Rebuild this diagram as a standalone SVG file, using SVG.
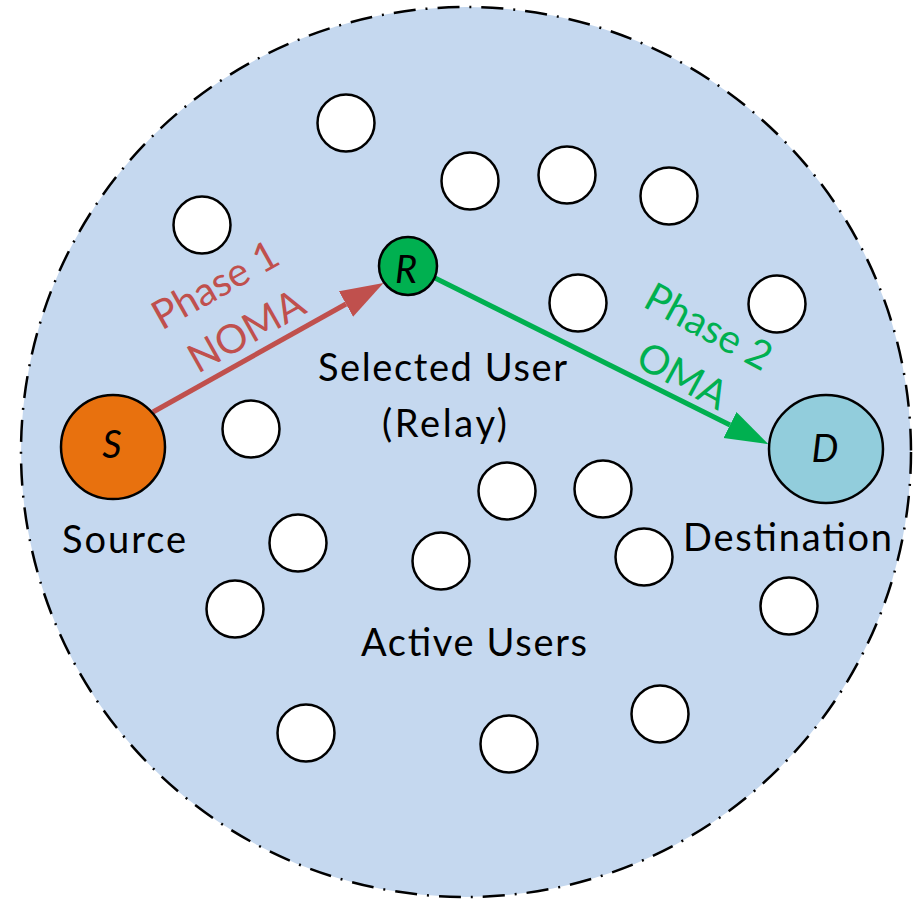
<svg xmlns="http://www.w3.org/2000/svg" width="922" height="899" viewBox="0 0 922 899">
  <defs>
    <style>
      .user { fill: #FFFFFF; stroke: #000000; stroke-width: 2.5; }
      .node { stroke: #000000; stroke-width: 2.5; }
      .lbl { font-family: Lato, "Open Sans", "Liberation Sans", sans-serif; font-size: 38px; fill: #000000; }
      .ital { font-family: Lato, "Open Sans", "Liberation Sans", sans-serif; font-size: 38px; font-style: italic; fill: #000000; text-anchor: middle; }
      .ph1 { font-family: Lato, "Open Sans", "Liberation Sans", sans-serif; font-size: 40px; fill: #C0504D; text-anchor: middle; }
      .ph2 { font-family: Lato, "Open Sans", "Liberation Sans", sans-serif; font-size: 40px; fill: #00B050; text-anchor: middle; }
    </style>
    <marker id="headRed" markerUnits="userSpaceOnUse" markerWidth="44" markerHeight="30" refX="0" refY="14.5" orient="auto">
      <path d="M0,0 L43,14.5 L0,29 Z" fill="#C0504D"/>
    </marker>
    <marker id="headGreen" markerUnits="userSpaceOnUse" markerWidth="44" markerHeight="30" refX="0" refY="14.5" orient="auto">
      <path d="M0,0 L43,14.5 L0,29 Z" fill="#00B050"/>
    </marker>
  </defs>

  <g id="area">
    <circle cx="466" cy="452" r="445" fill="#C5D8EF" stroke="#000000" stroke-width="2.5" stroke-dasharray="22 10 2 10"/>
  </g>

  <g id="active-users">
    <circle class="user" cx="346" cy="123" r="28.5"/>
    <circle class="user" cx="202" cy="225" r="28.5"/>
    <circle class="user" cx="470" cy="181" r="28.5"/>
    <circle class="user" cx="567" cy="175" r="28.5"/>
    <circle class="user" cx="669" cy="196" r="28.5"/>
    <circle class="user" cx="578" cy="303" r="28.5"/>
    <circle class="user" cx="777" cy="304" r="28.5"/>
    <circle class="user" cx="251" cy="429" r="28.5"/>
    <circle class="user" cx="507" cy="491" r="28.5"/>
    <circle class="user" cx="603" cy="489" r="28.5"/>
    <circle class="user" cx="298" cy="543" r="28.5"/>
    <circle class="user" cx="441" cy="561" r="28.5"/>
    <circle class="user" cx="644" cy="557" r="28.5"/>
    <circle class="user" cx="235" cy="609" r="28.5"/>
    <circle class="user" cx="789" cy="606" r="28.5"/>
    <circle class="user" cx="306" cy="733" r="28.5"/>
    <circle class="user" cx="509" cy="744" r="28.5"/>
    <circle class="user" cx="660" cy="714" r="28.5"/>
    <text class="lbl" x="474" y="656" text-anchor="middle" textLength="226">Active Users</text>
  </g>

  <g id="connectors">
    <line x1="153" y1="412" x2="346" y2="304" stroke="#C0504D" stroke-width="5" marker-end="url(#headRed)"/>
    <line x1="433" y1="277" x2="730" y2="425" stroke="#00B050" stroke-width="5" marker-end="url(#headGreen)"/>
    <g transform="translate(222,297) rotate(-29.3)">
      <text class="ph1" x="0" y="0">Phase 1</text>
    </g>
    <g transform="translate(253,343) rotate(-29.3)">
      <text class="ph1" x="0" y="0">NOMA</text>
    </g>
    <g transform="translate(702,339) rotate(28.5)">
      <text class="ph2" x="0" y="0">Phase 2</text>
    </g>
    <g transform="translate(676,388) rotate(28.5)">
      <text class="ph2" x="0" y="0">OMA</text>
    </g>
  </g>

  <g id="source">
    <circle class="node" cx="113" cy="447" r="52" fill="#E8710E"/>
    <text class="ital" x="112" y="458">S</text>
    <text class="lbl" x="124" y="553" text-anchor="middle" textLength="124">Source</text>
  </g>

  <g id="relay">
    <circle class="node" cx="408" cy="266" r="29" fill="#00B050"/>
    <text class="ital" x="406" y="283">R</text>
    <text class="lbl" x="442.5" y="381" text-anchor="middle" textLength="249">Selected User</text>
    <text class="lbl" x="444.5" y="437" text-anchor="middle" textLength="125">(Relay)</text>
  </g>

  <g id="destination">
    <ellipse class="node" cx="826" cy="449" rx="57" ry="54" fill="#92CDDC"/>
    <text class="ital" x="825" y="462">D</text>
    <text class="lbl" x="787.5" y="551" text-anchor="middle" textLength="209">Destination</text>
  </g>
</svg>
